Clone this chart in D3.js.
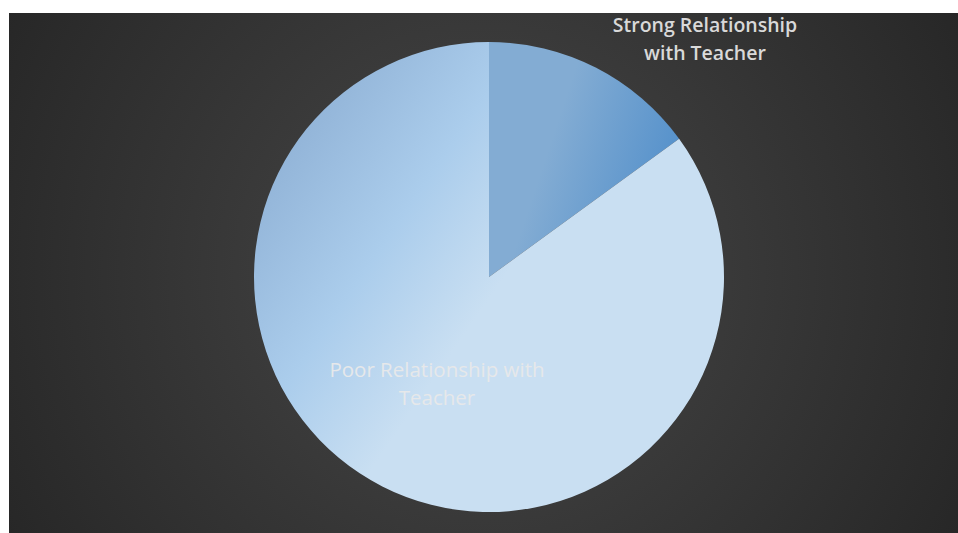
<!DOCTYPE html>
<html>
<head>
<meta charset="utf-8">
<script src="https://cdn.jsdelivr.net/npm/d3@7"></script>
<style>
  body { margin: 0; background: #ffffff; }
  svg { display: block; }
</style>
</head>
<body>
<div id="chart"></div>
<script>
// pie data
var categories = ["Strong Relationship with Teacher", "Poor Relationship with Teacher"];
var values = [15, 85];
var labelLines = [["Strong Relationship", "with Teacher"], ["Poor Relationship with", "Teacher"]];

var width = 958;
var height = 533;
var cx = 489, cy = 277, radius = 235;

var svg = d3.select("#chart")
  .append("svg")
  .attr("width", width)
  .attr("height", height);

var defs = svg.append("defs");

// dark radial background
var bg = defs.append("radialGradient")
  .attr("id", "bg")
  .attr("gradientUnits", "userSpaceOnUse")
  .attr("cx", 483).attr("cy", 273).attr("r", 560);
bg.append("stop").attr("offset", "0%").attr("stop-color", "#484848");
bg.append("stop").attr("offset", "100%").attr("stop-color", "#262626");

// slice gradients
var gStrong = defs.append("linearGradient")
  .attr("id", "g0")
  .attr("gradientUnits", "userSpaceOnUse")
  .attr("x1", cx + 70).attr("y1", cy - 160)
  .attr("x2", cx + 190).attr("y2", cy - 120);
gStrong.append("stop").attr("offset", "0%").attr("stop-color", "#83acd3");
gStrong.append("stop").attr("offset", "100%").attr("stop-color", "#5591cb");

var gPoor = defs.append("linearGradient")
  .attr("id", "g1")
  .attr("gradientUnits", "userSpaceOnUse")
  .attr("x1", 285).attr("y1", 135)
  .attr("x2", 500).attr("y2", 283);
gPoor.append("stop").attr("offset", "0%").attr("stop-color", "#91b3d7");
gPoor.append("stop").attr("offset", "55%").attr("stop-color", "#abcdec");
gPoor.append("stop").attr("offset", "100%").attr("stop-color", "#c9dff2");

svg.append("rect")
  .attr("x", 9).attr("y", 13)
  .attr("width", width - 9).attr("height", height - 13)
  .attr("fill", "url(#bg)");

var pie = d3.pie().sort(null).value(function (d) { return d; });
var arcs = pie(values);

// slices drawn in page coords so the userSpace gradients line up
svg.selectAll(".slice")
  .data(arcs)
  .enter()
  .append("path")
  .attr("class", "slice")
  .attr("d", function (d) {
    var p = d3.path();
    var a0 = d.startAngle - Math.PI / 2, a1 = d.endAngle - Math.PI / 2;
    p.moveTo(cx, cy);
    p.lineTo(cx + radius * Math.cos(a0), cy + radius * Math.sin(a0));
    p.arc(cx, cy, radius, a0, a1);
    p.closePath();
    return p.toString();
  })
  .attr("fill", function (d, i) { return "url(#g" + i + ")"; });

// labels
var labelPos = [[705, 25], [437, 370]];
var labelColor = ["#d9d9d9", "#e6e8ea"];
var labelWeight = ["600", "400"];
var labelSize = [19.5, 20.5];

labelLines.forEach(function (lines, i) {
  var t = svg.append("text")
    .attr("text-anchor", "middle")
    .attr("font-family", "'Open Sans', sans-serif")
    .attr("font-size", labelSize[i])
    .attr("font-weight", labelWeight[i])
    .attr("fill", labelColor[i]);
  lines.forEach(function (line, j) {
    t.append("tspan")
      .attr("x", labelPos[i][0])
      .attr("y", labelPos[i][1] + j * 28)
      .attr("dy", "0.35em")
      .text(line);
  });
});
</script>
</body>
</html>
